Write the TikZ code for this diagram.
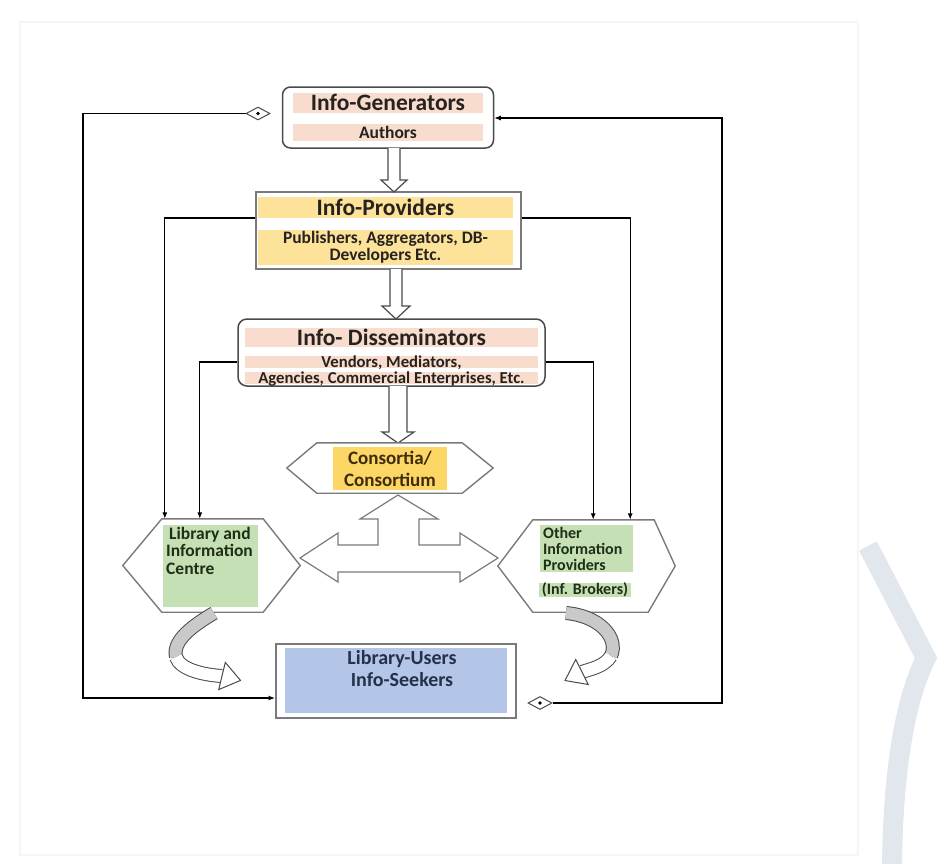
\documentclass[tikz,border=0pt]{standalone}
\usepackage{fontspec}
\setmainfont{Carlito}
\usetikzlibrary{shapes.geometric,arrows.meta,calc}
\definecolor{peach}{HTML}{F8DCCD}
\definecolor{provy}{HTML}{FDE29A}
\definecolor{consy}{HTML}{FCD765}
\definecolor{lgreen}{HTML}{C5E0B4}
\definecolor{lblue}{HTML}{B4C6E7}
\definecolor{boxgray}{HTML}{4A4A4A}
\definecolor{boxgray2}{HTML}{7A7A7A}
\definecolor{txt}{HTML}{26221F}
\definecolor{ctxt}{HTML}{3F2C0C}
\definecolor{gtxt}{HTML}{1F2E16}
\definecolor{btxt}{HTML}{25304A}
\definecolor{wmark}{HTML}{E1E7ED}
\definecolor{facegray}{HTML}{C9C9C9}
\begin{document}
\begin{tikzpicture}[x=1pt,y=-1pt,
  boxline/.style={draw=boxgray, line width=1.5pt},
  boxline2/.style={draw=boxgray2, line width=2pt},
  hexline/.style={draw=boxgray2, line width=1.4pt, fill=white},
  band/.style={inner sep=0pt, text=txt, align=center},
  ftitle/.style={font=\bfseries\fontsize{23.5}{25}\selectfont, text height=15pt, text depth=0pt},
  fsub/.style={font=\bfseries\fontsize{17.5}{17}\selectfont},
  fsubline/.style={fsub, text height=11pt, text depth=0pt},
  fdisline/.style={font=\bfseries\fontsize{16.7}{17}\selectfont, text height=10.6pt, text depth=0pt},
  conn/.style={draw=black, line width=1.1pt, -{Latex[length=6.5pt,width=5pt]}},
  hollow/.style={draw=boxgray, line width=1.2pt, fill=white},
  curve/.style={draw=boxgray, line width=1pt, double distance=12pt},
  dmd/.style={diamond, draw=boxgray, line width=1pt, fill=white, inner sep=0pt,
    minimum width=24pt, minimum height=13pt,
    path picture={\fill[black] (path picture bounding box.center) circle (1.8pt);}}
]
\useasboundingbox (0,0) rectangle (945,863);
% faint background frame and watermark
\draw[black!4, line width=2pt] (20,22) rectangle (858,855);
\draw[wmark, line width=20pt] (868,546) -- (926,658) .. controls (905,700) and (893,770) .. (892,866);

% Info-Generators
\node[boxline, rounded corners=8pt, minimum width=211pt, minimum height=61pt] (gen) at (388,117.5) {};
\node[band, ftitle, fill=peach, minimum width=190pt, minimum height=20pt] (genT) at (388,103) {Info-Generators};
\node[band, fsubline, fill=peach, minimum width=190pt, minimum height=17pt] (genS) at (388,132.5) {Authors};

% Info-Providers
\node[boxline2, minimum width=265pt, minimum height=77pt] (prov) at (388.5,230.5) {};
\node[band, ftitle, fill=provy, minimum width=255pt, minimum height=21pt] (provT) at (385.5,207.5) {Info-Providers};
\node[band, fsub, fill=provy, minimum width=255pt, minimum height=35pt] (provS) at (385.5,247.5) {Publishers, Aggregators, DB-\\Developers Etc.};

% Info-Disseminators
\node[boxline, rounded corners=9pt, minimum width=307pt, minimum height=67pt] (dis) at (391.5,352.5) {};
\node[band, ftitle, fill=peach, minimum width=293pt, minimum height=19pt] (disT) at (391.5,337.5) {Info- Disseminators};
\node[band, fdisline, fill=peach, minimum width=293pt, minimum height=12pt] (disS1) at (391.5,362) {Vendors, Mediators,};
\node[band, fdisline, fill=peach, minimum width=293pt, minimum height=12pt] (disS2) at (391.5,378) {Agencies, Commercial Enterprises, Etc.};

% hollow down arrows
\draw[hollow] (388,148) -- (388,180) -- (381,180) -- (394,192) -- (407,180) -- (400,180) -- (400,148);
\draw[hollow] (390,269) -- (390,306) -- (382,306) -- (396,319) -- (410,306) -- (402,306) -- (402,269);
\draw[hollow] (389,386) -- (389,432) -- (382,432) -- (398,443) -- (414,432) -- (407,432) -- (407,386);

% Consortia hexagon
\node[minimum width=206pt, minimum height=50pt, inner sep=0pt] (cons) at (390,468) {};
\draw[hexline] (cons.west) -- ([xshift=30pt]cons.north west) -- ([xshift=-31pt]cons.north east) -- (cons.east)
  -- ([xshift=-31pt]cons.south east) -- ([xshift=30pt]cons.south west) -- cycle;
\node[band, text=ctxt, font=\bfseries\fontsize{19}{22}\selectfont, fill=consy, minimum width=114pt, minimum height=43pt] (consT) at (390,468.5) {Consortia/\\Consortium};

% Library and Information Centre hexagon
\node[minimum width=177pt, minimum height=93pt, inner sep=0pt] (lic) at (211.5,565.5) {};
\draw[hexline] (lic.west) -- ([xshift=39pt]lic.north west) -- ([xshift=-37pt]lic.north east) -- (lic.east)
  -- ([xshift=-37pt]lic.south east) -- ([xshift=39pt]lic.south west) -- cycle;
\node[fill=lgreen, minimum width=95pt, minimum height=82pt, inner sep=0pt, anchor=north west] (licbg) at (163,525) {};
\node[anchor=north west, inner sep=0pt, align=left, text=gtxt, font=\bfseries\fontsize{17.5}{17.5}\selectfont] (licT) at (166,527) {\hspace*{3pt}Library and\\Information\\Centre};

% Other Information Providers hexagon
\node[minimum width=177pt, minimum height=92pt, inner sep=0pt] (oip) at (586.5,566) {};
\draw[hexline] (oip.west) -- ([xshift=35pt]oip.north west) -- ([xshift=-21pt]oip.north east) -- (oip.east)
  -- ([xshift=-27pt]oip.south east) -- ([xshift=35pt]oip.south west) -- cycle;
\node[fill=lgreen, minimum width=93pt, minimum height=47pt, inner sep=0pt, anchor=north west] (oipbg) at (540,525) {};
\node[anchor=north west, inner sep=0pt, align=left, text=gtxt, font=\bfseries\fontsize{16}{16}\selectfont] (oipT) at (543,527.5) {Other\\Information\\Providers};
\node[band, text=gtxt, font=\bfseries\fontsize{16}{16}\selectfont, fill=lgreen, minimum width=92pt, minimum height=14pt, text height=11pt, text depth=3pt] (oipS) at (585,590) {(Inf. Brokers)};

% big three-headed arrow
\draw[hollow, draw=boxgray2] (300,558) -- (338,533) -- (338,545) -- (378,545) -- (378,519) -- (360,519) -- (398,495)
  -- (438,519) -- (419,519) -- (419,545) -- (460,545) -- (460,533) -- (498,558) -- (460,582) -- (460,572)
  -- (338,572) -- (338,582) -- cycle;

% Library-Users
\node[boxline2, minimum width=240pt, minimum height=74pt] (users) at (396,681) {};
\node[fill=lblue, minimum width=222pt, minimum height=65pt, inner sep=0pt] (usersbg) at (396,680.5) {};
\node[anchor=north, inner sep=0pt, align=center, text=btxt, font=\bfseries\fontsize{20}{22}\selectfont] (usersT) at (402,650) {Library-Users\\Info-Seekers};

% curved arrows
\draw[curve, double=facegray] (214,613) .. controls (194,625) and (172,640) .. (176,657);
\draw[curve, double=white] (176,657) .. controls (180,670) and (205,675) .. (222,676);
\draw[hollow, line width=1pt] (225.3,662.4) -- (240.5,680.4) -- (218.7,689.6) -- cycle;
\draw[curve, double=facegray] (566,613) .. controls (600,616) and (619,638) .. (611,656);
\draw[curve, double=white] (611,656) .. controls (604,667) and (590,669) .. (582,672);
\draw[hollow, line width=1pt] (588.3,684.5) -- (565.0,680.5) -- (575.7,659.5) -- cycle;

% connectors
\draw[conn] ([yshift=12.5pt]prov.west) -| ([xshift=42pt]lic.north west);
\draw[conn] ([yshift=-9.5pt]dis.west) -| ([xshift=77pt]lic.north west);
\draw[conn] ([yshift=12.5pt]prov.east) -| ([xshift=-45pt]oip.north east);
\draw[conn] ([yshift=-9.5pt]dis.east) -| ([xshift=-82pt]oip.north east);

% outer loops with diamonds
\node[dmd] (d1) at (258,113.5) {};
\node[dmd] (d2) at (540,703) {};
\coordinate (cornerL) at (83,698);
\coordinate (cornerR) at (722,118);
\draw[conn] (d1.west) -| (cornerL) -- (users.west |- cornerL);
\draw[conn] (d2.east) -| (cornerR) -- (gen.east |- cornerR);
\end{tikzpicture}
\end{document}
